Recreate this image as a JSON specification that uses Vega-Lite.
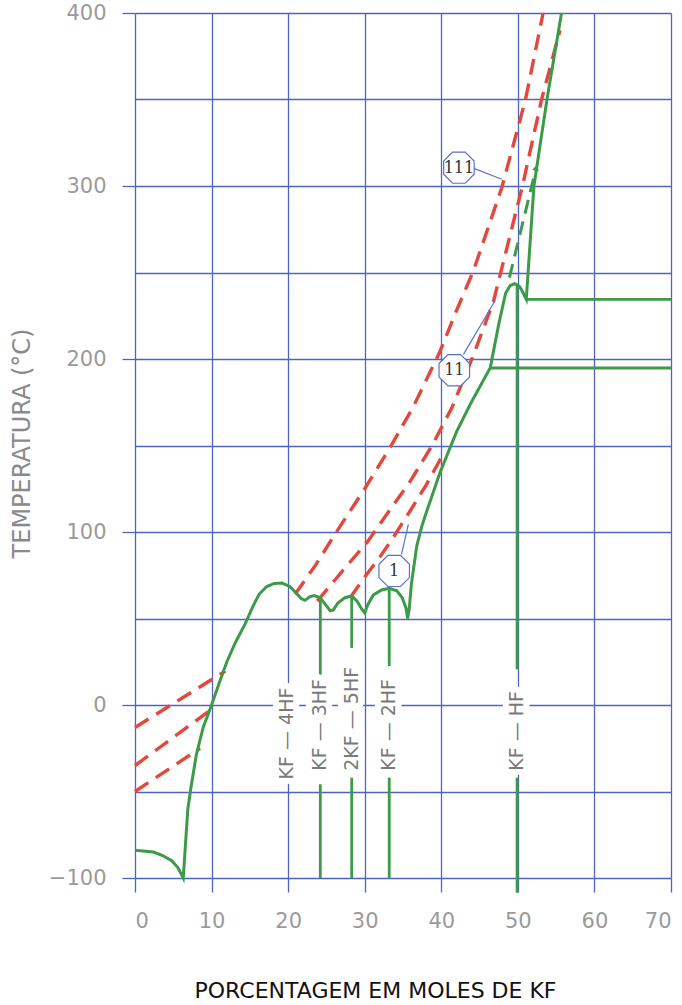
{
  "$schema": "https://vega.github.io/schema/vega-lite/v6.json",
  "autosize": "none",
  "width": 536,
  "height": 865,
  "padding": {"left": 135, "top": 13, "right": 11, "bottom": 127},
  "background": "#ffffff",
  "config": {
    "view": {"stroke": null},
    "axis": {"domain": false, "grid": true, "gridColor": "#4f63c2", "gridWidth": 1.3, "tickColor": "#4f63c2", "tickWidth": 1.3, "labelFont": "DejaVu Sans", "labelColor": "#9a9a9a", "labelFontSize": 21, "titleFont": "DejaVu Sans", "titleFontWeight": "normal"}
  },
  "datasets": {
    "red": [
      {"seg": "IIIa", "o": 1, "x": 0, "y": -13}, {"seg": "IIIa", "o": 2, "x": 11.8, "y": 19.6},
      {"seg": "IIIb", "o": 1, "x": 20.9, "y": 64}, {"seg": "IIIb", "o": 2, "x": 23.6, "y": 81}, {"seg": "IIIb", "o": 3, "x": 26.3, "y": 100}, {"seg": "IIIb", "o": 4, "x": 30, "y": 125}, {"seg": "IIIb", "o": 5, "x": 33.2, "y": 148}, {"seg": "IIIb", "o": 6, "x": 36.3, "y": 172}, {"seg": "IIIb", "o": 7, "x": 39.8, "y": 204}, {"seg": "IIIb", "o": 8, "x": 41.8, "y": 226}, {"seg": "IIIb", "o": 9, "x": 44.2, "y": 251}, {"seg": "IIIb", "o": 10, "x": 47.9, "y": 299}, {"seg": "IIIb", "o": 11, "x": 51, "y": 350}, {"seg": "IIIb", "o": 12, "x": 53.3, "y": 400},
      {"seg": "IIa", "o": 1, "x": 0, "y": -35}, {"seg": "IIa", "o": 2, "x": 10, "y": -2.5},
      {"seg": "IIb", "o": 1, "x": 23.8, "y": 60}, {"seg": "IIb", "o": 2, "x": 27, "y": 77}, {"seg": "IIb", "o": 3, "x": 30.3, "y": 94}, {"seg": "IIb", "o": 4, "x": 33, "y": 111}, {"seg": "IIb", "o": 5, "x": 35.9, "y": 129}, {"seg": "IIb", "o": 6, "x": 38.8, "y": 150}, {"seg": "IIb", "o": 7, "x": 41.4, "y": 172}, {"seg": "IIb", "o": 8, "x": 44, "y": 200}, {"seg": "IIb", "o": 9, "x": 46.8, "y": 233}, {"seg": "IIb", "o": 10, "x": 50.6, "y": 300}, {"seg": "IIb", "o": 11, "x": 53.1, "y": 350}, {"seg": "IIb", "o": 12, "x": 55.5, "y": 390},
      {"seg": "Ia", "o": 1, "x": 0, "y": -50}, {"seg": "Ia", "o": 2, "x": 8.5, "y": -25},
      {"seg": "Ib", "o": 1, "x": 28.1, "y": 62}, {"seg": "Ib", "o": 2, "x": 30, "y": 74}, {"seg": "Ib", "o": 3, "x": 31.9, "y": 85}, {"seg": "Ib", "o": 4, "x": 33.9, "y": 98}, {"seg": "Ib", "o": 5, "x": 35.9, "y": 112}, {"seg": "Ib", "o": 6, "x": 38, "y": 127}, {"seg": "Ib", "o": 7, "x": 40, "y": 143}
    ],
    "liq": [
      {"o": 1, "x": 0, "y": -84}, {"o": 2, "x": 2.4, "y": -85}, {"o": 3, "x": 3.6, "y": -87}, {"o": 4, "x": 4.8, "y": -90}, {"o": 5, "x": 5.6, "y": -94}, {"o": 6, "x": 6.3, "y": -100},
      {"o": 7, "x": 6.6, "y": -80}, {"o": 8, "x": 6.9, "y": -60}, {"o": 9, "x": 7.3, "y": -48}, {"o": 10, "x": 8.0, "y": -29}, {"o": 11, "x": 8.9, "y": -13}, {"o": 12, "x": 10, "y": 0},
      {"o": 13, "x": 11.1, "y": 14}, {"o": 14, "x": 12, "y": 25}, {"o": 15, "x": 13.1, "y": 36}, {"o": 16, "x": 14.4, "y": 47}, {"o": 17, "x": 15.4, "y": 57}, {"o": 18, "x": 16.2, "y": 64},
      {"o": 19, "x": 17.2, "y": 68.5}, {"o": 20, "x": 18.2, "y": 70.3}, {"o": 21, "x": 19.2, "y": 70.5}, {"o": 22, "x": 20.2, "y": 68.5}, {"o": 23, "x": 20.9, "y": 65.5}, {"o": 24, "x": 21.7, "y": 61.5},
      {"o": 25, "x": 22.2, "y": 60.5}, {"o": 26, "x": 22.8, "y": 62.5}, {"o": 27, "x": 23.4, "y": 63.3}, {"o": 28, "x": 24.2, "y": 62}, {"o": 29, "x": 24.8, "y": 58.5}, {"o": 30, "x": 25.5, "y": 54.5},
      {"o": 31, "x": 25.9, "y": 55}, {"o": 32, "x": 26.5, "y": 59}, {"o": 33, "x": 27.4, "y": 62}, {"o": 34, "x": 28.3, "y": 63}, {"o": 35, "x": 29, "y": 60}, {"o": 36, "x": 29.6, "y": 55.5},
      {"o": 37, "x": 30, "y": 53.2}, {"o": 38, "x": 30.4, "y": 58}, {"o": 39, "x": 31.1, "y": 63.5}, {"o": 40, "x": 32.2, "y": 66.5}, {"o": 41, "x": 33.2, "y": 67.5}, {"o": 42, "x": 34.2, "y": 66},
      {"o": 43, "x": 34.9, "y": 62}, {"o": 44, "x": 35.4, "y": 56}, {"o": 45, "x": 35.6, "y": 50}, {"o": 46, "x": 35.8, "y": 55}, {"o": 47, "x": 36.1, "y": 70}, {"o": 48, "x": 36.8, "y": 92},
      {"o": 49, "x": 37.5, "y": 104}, {"o": 50, "x": 38.1, "y": 112}, {"o": 51, "x": 39.8, "y": 134}, {"o": 52, "x": 42, "y": 158}, {"o": 53, "x": 43.8, "y": 174}, {"o": 54, "x": 46.4, "y": 195},
      {"o": 55, "x": 47.5, "y": 220}, {"o": 56, "x": 48.4, "y": 238}, {"o": 57, "x": 49, "y": 242.5}, {"o": 58, "x": 49.6, "y": 243.5}, {"o": 59, "x": 50.2, "y": 242}, {"o": 60, "x": 50.6, "y": 239},
      {"o": 61, "x": 51.1, "y": 234.5}, {"o": 62, "x": 52.1, "y": 300}, {"o": 63, "x": 53.8, "y": 350}, {"o": 64, "x": 55.7, "y": 400}
    ],
    "meta": [
      {"o": 1, "x": 48.9, "y": 247}, {"o": 2, "x": 52.3, "y": 309}
    ],
    "rules": [
      {"x": 24.2, "x2": 24.2, "y": 62, "y2": 15.8},
      {"x": 24.2, "x2": 24.2, "y": -45.8, "y2": -100},
      {"x": 28.3, "x2": 28.3, "y": 63, "y2": 33},
      {"x": 28.3, "x2": 28.3, "y": -42, "y2": -100},
      {"x": 33.2, "x2": 33.2, "y": 67.5, "y2": 22.5},
      {"x": 33.2, "x2": 33.2, "y": -42, "y2": -100},
      {"x": 49.9, "x2": 49.9, "y": 243, "y2": 20.6},
      {"x": 49.9, "x2": 49.9, "y": -42, "y2": -108.5},
      {"x": 46.4, "x2": 70, "y": 194.8, "y2": 194.8},
      {"x": 51.1, "x2": 70, "y": 234.5, "y2": 234.5}
    ],
    "leaders": [
      {"x": 44, "x2": 47.9, "y": 310.6, "y2": 303.9},
      {"x": 42.9, "x2": 47.0, "y": 202.7, "y2": 233.5},
      {"x": 34.8, "x2": 35.7, "y": 87, "y2": 104.4}
    ],
    "markers": [
      {"label": "111", "x": 42.3, "y": 310.6},
      {"label": "11", "x": 41.7, "y": 193.5},
      {"label": "1", "x": 33.85, "y": 77.5}
    ],
    "comps": [
      {"label": "KF — 4HF", "x": 19.9, "y": -43},
      {"label": "KF — 3HF", "x": 24.2, "y": -38},
      {"label": "2KF — 5HF", "x": 28.3, "y": -38},
      {"label": "KF — 2HF", "x": 33.2, "y": -38},
      {"label": "KF — HF", "x": 49.9, "y": -38}
    ],
    "arrow": [
      {"x": 52.4, "y": 310.6}
    ]
  },
  "encoding": {
    "x": {"field": "x", "type": "quantitative", "scale": {"domain": [0, 70], "nice": false, "zero": false},
      "axis": {"values": [0, 10, 20, 30, 40, 50, 60, 70], "tickSize": 14, "labelPadding": 18, "title": "PORCENTAGEM  EM  MOLES  DE  KF", "titleFontSize": 22, "titleColor": "#111111", "titleX": 240, "titleY": 119, "titleBaseline": "alphabetic", "titleAlign": "center"}},
    "y": {"field": "y", "type": "quantitative", "scale": {"domain": [-100, 400], "nice": false, "zero": false},
      "axis": {"values": [-100, -50, 0, 50, 100, 150, 200, 250, 300, 350, 400], "tickSize": 13, "tickOpacity": {"condition": {"test": "datum.value % 100 !== 0", "value": 0}, "value": 1}, "labelExpr": "datum.value % 100 === 0 ? datum.label : ''", "labelPadding": 16, "labelBaseline": "middle", "title": "TEMPERATURA (°C)", "titleFontSize": 24, "titleColor": "#8a8a8a", "titleAngle": 270, "titleX": -113, "titleY": 430, "titleAlign": "center", "titleBaseline": "middle"}}
  },
  "layer": [
    {"data": {"name": "rules"}, "mark": {"type": "rule", "color": "#3d9a48", "strokeWidth": 2.8},
      "encoding": {"x2": {"field": "x2"}, "y2": {"field": "y2"}}},
    {"data": {"name": "red"}, "mark": {"type": "line", "color": "#e4473b", "strokeWidth": 3.4, "strokeDash": [16, 9]},
      "encoding": {"detail": {"field": "seg"}, "order": {"field": "o"}}},
    {"data": {"name": "liq"}, "mark": {"type": "line", "color": "#3d9a48", "strokeWidth": 3},
      "encoding": {"order": {"field": "o"}}},
    {"data": {"name": "meta"}, "mark": {"type": "line", "color": "#3d9a48", "strokeWidth": 3, "strokeDash": [14, 8]},
      "encoding": {"order": {"field": "o"}}},
    {"data": {"name": "arrow"}, "mark": {"type": "point", "shape": "triangle-up", "filled": true, "color": "#3d9a48", "size": 45, "angle": 14, "opacity": 1}},
    {"data": {"name": "leaders"}, "mark": {"type": "rule", "color": "#5b6fd0", "strokeWidth": 1.2},
      "encoding": {"x2": {"field": "x2"}, "y2": {"field": "y2"}}},
    {"data": {"name": "markers"}, "mark": {"type": "point", "shape": "M -0.38 -0.94 L 0.38 -0.94 L 0.92 -0.4 L 0.92 0.4 L 0.38 0.94 L -0.38 0.94 L -0.92 0.4 L -0.92 -0.4 Z", "size": 1100, "filled": true, "fill": "#ffffff", "stroke": "#5b6fd0", "strokeWidth": 1.2, "opacity": 1}},
    {"data": {"name": "markers"}, "mark": {"type": "text", "font": "DejaVu Serif", "fontSize": 16, "color": "#333333", "align": "center", "baseline": "middle"},
      "encoding": {"text": {"field": "label"}}},
    {"data": {"name": "comps"}, "mark": {"type": "text", "font": "DejaVu Sans", "fontSize": 19, "angle": 270, "align": "left", "baseline": "middle", "color": "#ffffff", "stroke": "#ffffff", "strokeWidth": 12},
      "encoding": {"text": {"field": "label"}}},
    {"data": {"name": "comps"}, "mark": {"type": "text", "font": "DejaVu Sans", "fontSize": 19, "angle": 270, "align": "left", "baseline": "middle", "color": "#7a7a7a"},
      "encoding": {"text": {"field": "label"}}}
  ]
}
